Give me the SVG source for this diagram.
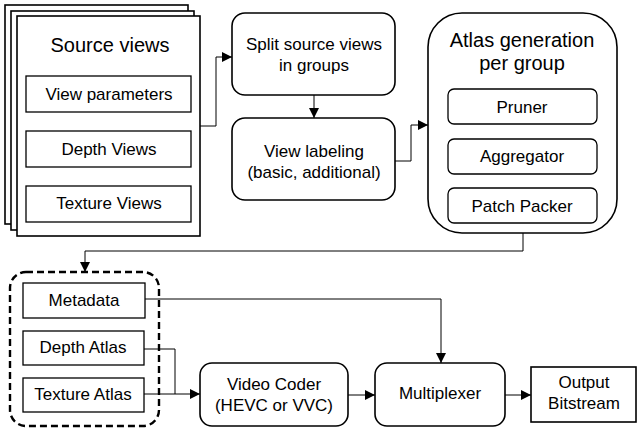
<svg xmlns="http://www.w3.org/2000/svg" width="637" height="431" viewBox="0 0 637 431">
  <style>
    .box { fill: #fff; stroke: #000; stroke-width: 1.6; }
    .inner { fill: #fff; stroke: #000; stroke-width: 1.3; }
    .t { font-family: "Liberation Sans", Arial, sans-serif; font-size: 17px; fill: #000; text-anchor: middle; }
    .big { font-size: 20px; }
    .wire { fill: none; stroke: #000; stroke-width: 1; }
    .arrow { marker-end: url(#head); }
  </style>
  <defs>
    <marker id="head" viewBox="0 0 10 10" refX="10" refY="5" markerWidth="10" markerHeight="10" markerUnits="userSpaceOnUse" orient="auto">
      <path d="M0,0 L10,5 L0,10 z" fill="#000"/>
    </marker>
  </defs>

  <g id="source-views">
    <rect class="box" x="5" y="5" width="183" height="219"/>
    <rect class="box" x="11" y="11" width="183" height="219"/>
    <rect class="box" x="17" y="16" width="183" height="220"/>
    <text class="t big" x="110" y="52">Source views</text>
    <g id="view-parameters">
      <rect class="inner" x="26" y="76" width="165" height="36"/>
      <text class="t" x="109" y="100">View parameters</text>
    </g>
    <g id="depth-views">
      <rect class="inner" x="26" y="131" width="165" height="36"/>
      <text class="t" x="109" y="155">Depth Views</text>
    </g>
    <g id="texture-views">
      <rect class="inner" x="26" y="186" width="165" height="36"/>
      <text class="t" x="109" y="209">Texture Views</text>
    </g>
  </g>

  <g id="split-groups">
    <rect class="box" x="232" y="13" width="163" height="82" rx="13"/>
    <text class="t" x="314" y="50">Split source views</text>
    <text class="t" x="314" y="71">in groups</text>
  </g>

  <g id="view-labeling">
    <rect class="box" x="232" y="118" width="163" height="82" rx="13"/>
    <text class="t" x="314" y="157">View labeling</text>
    <text class="t" x="314" y="178">(basic, additional)</text>
  </g>

  <g id="atlas-generation">
    <rect class="box" x="428" y="13" width="189" height="220" rx="34"/>
    <text class="t big" x="522" y="47">Atlas generation</text>
    <text class="t big" x="522" y="70">per group</text>
    <g id="pruner">
      <rect class="inner" x="448" y="89" width="149" height="35" rx="6"/>
      <text class="t" x="522" y="113">Pruner</text>
    </g>
    <g id="aggregator">
      <rect class="inner" x="448" y="139" width="149" height="35" rx="6"/>
      <text class="t" x="522" y="162">Aggregator</text>
    </g>
    <g id="patch-packer">
      <rect class="inner" x="448" y="188" width="149" height="35" rx="6"/>
      <text class="t" x="522" y="212">Patch Packer</text>
    </g>
  </g>

  <g id="atlases">
    <rect x="10" y="272" width="149" height="154" rx="16" fill="none" stroke="#000" stroke-width="2.4" stroke-dasharray="7,4"/>
    <g id="metadata">
      <rect class="inner" x="23" y="283" width="122" height="35"/>
      <text class="t" x="84" y="306">Metadata</text>
    </g>
    <g id="depth-atlas">
      <rect class="inner" x="23" y="331" width="121" height="34"/>
      <text class="t" x="83" y="353">Depth Atlas</text>
    </g>
    <g id="texture-atlas">
      <rect class="inner" x="23" y="378" width="121" height="34"/>
      <text class="t" x="83" y="400">Texture Atlas</text>
    </g>
  </g>

  <g id="video-coder">
    <rect class="box" x="200" y="363" width="148" height="63" rx="12"/>
    <text class="t" x="274" y="390">Video Coder</text>
    <text class="t" x="274" y="411">(HEVC or VVC)</text>
  </g>

  <g id="multiplexer">
    <rect class="box" x="375" y="363" width="130" height="63" rx="12"/>
    <text class="t" x="440" y="399">Multiplexer</text>
  </g>

  <g id="output-bitstream">
    <rect class="box" x="531" y="367" width="105" height="55"/>
    <text class="t" x="584" y="388">Output</text>
    <text class="t" x="584" y="409">Bitstream</text>
  </g>

  <g id="connectors">
    <path class="wire arrow" d="M200,126 H216 V57 H232"/>
    <path class="wire arrow" d="M314,95 V118"/>
    <path class="wire arrow" d="M395,161 H411 V125 H428"/>
    <path class="wire arrow" d="M523,233 V251 H85 V272"/>
    <path class="wire arrow" d="M145,299 H441 V363"/>
    <path class="wire" d="M144,349 H175 V394"/>
    <path class="wire arrow" d="M144,394 H200"/>
    <path class="wire arrow" d="M348,395 H375"/>
    <path class="wire arrow" d="M505,395 H531"/>
  </g>
</svg>
